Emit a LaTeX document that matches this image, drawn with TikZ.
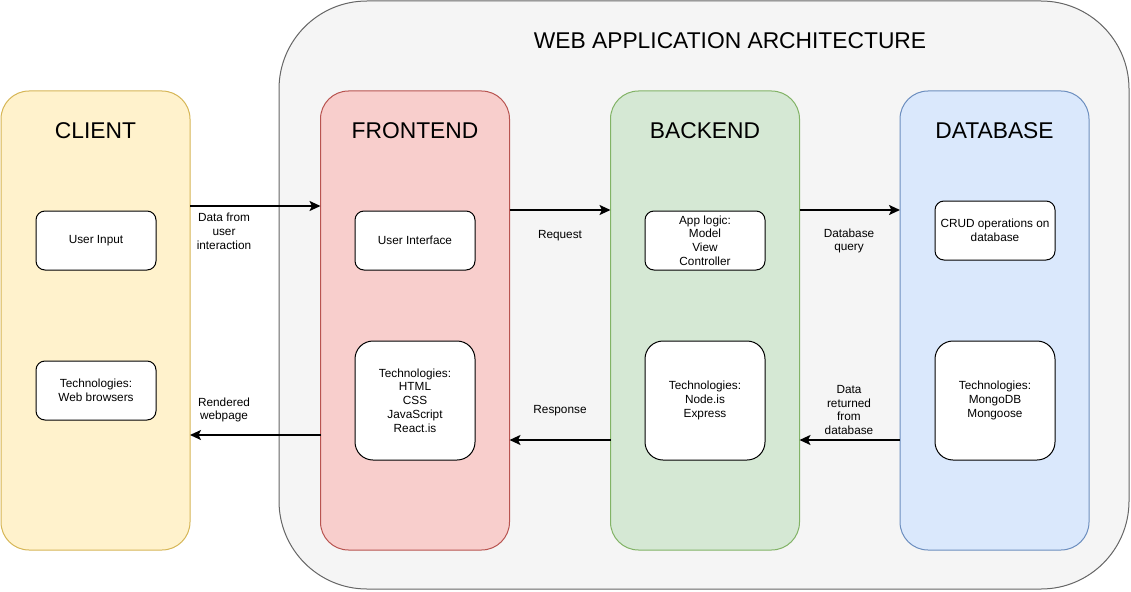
\documentclass[tikz,border=0pt]{standalone}
\usepackage{fontspec}
\setmainfont{Liberation Sans}
\usetikzlibrary{arrows.meta}
\definecolor{ylwF}{HTML}{FFF2CC}\definecolor{ylwS}{HTML}{D6B656}
\definecolor{redF}{HTML}{F8CECC}\definecolor{redS}{HTML}{B85450}
\definecolor{grnF}{HTML}{D5E8D4}\definecolor{grnS}{HTML}{82B366}
\definecolor{bluF}{HTML}{DAE8FC}\definecolor{bluS}{HTML}{6C8EBF}
\definecolor{gryF}{HTML}{F5F5F5}\definecolor{gryS}{HTML}{666666}
\tikzset{
  lane/.style={draw, line width=1pt, rounded corners=28pt, minimum width=189pt, minimum height=459pt, outer sep=0pt},
  item/.style={draw=black, fill=white, line width=1pt, rounded corners=9pt, minimum width=120pt, minimum height=59pt, align=center, font=\fontsize{11.8}{13.8}\selectfont, outer sep=0pt},
  tall/.style={item, minimum height=119pt, rounded corners=18pt},
  title/.style={font=\fontsize{22.8}{26}\selectfont},
  lbl/.style={align=center, font=\fontsize{11.8}{13.8}\selectfont},
  arr/.style={line width=2pt, -{Stealth[length=11pt, width=10pt, inset=2.5pt]}},
}
\begin{document}
\begin{tikzpicture}[x=1pt,y=-1pt]
\useasboundingbox (0,0) rectangle (1131,591);
\node[draw=gryS, fill=gryF, line width=1pt, rounded corners=88pt, minimum width=850pt, minimum height=588pt, outer sep=0pt] (arch) at (704,295) {};
\node[title] (archT) at (730,41) {WEB APPLICATION ARCHITECTURE};

\node[lane, draw=ylwS, fill=ylwF] (client) at (95.5,320.5) {};
\node[lane, draw=redS, fill=redF] (front) at (415,320.5) {};
\node[lane, draw=grnS, fill=grnF] (back) at (705,320.5) {};
\node[lane, draw=bluS, fill=bluF] (db) at (994.5,320.5) {};

\node[title] (clientT) at (95.5,131) {CLIENT};
\node[title] (frontT) at (415,131) {FRONTEND};
\node[title] (backT) at (705,131) {BACKEND};
\node[title] (dbT) at (994.5,131) {DATABASE};

\node[item] (uin) at (96,240.5) {User Input};
\node[item] (ctech) at (96,390.5) {Technologies:\\Web browsers};
\node[item] (ui) at (415,240.5) {User Interface};
\node[tall] (ftech) at (415,400.5) {Technologies:\\HTML\\CSS\\JavaScript\\React.is};
\node[item] (app) at (705,240.5) {App logic:\\Model\\View\\Controller};
\node[tall] (btech) at (705,400.5) {Technologies:\\Node.is\\Express};
\node[item] (crud) at (995,230.5) {CRUD operations on\\database};
\node[tall] (dtech) at (995,400.5) {Technologies:\\MongoDB\\Mongoose};

\draw[arr] (client.east |- 0,206) -- (front.west |- 0,206);
\draw[arr] (front.east |- 0,210) -- (back.west |- 0,210);
\draw[arr] (back.east |- 0,210) -- (db.west |- 0,210);
\draw[arr] (front.west |- 0,435) -- (client.east |- 0,435);
\draw[arr] (back.west |- 0,440) -- (front.east |- 0,440);
\draw[arr] (db.west |- 0,440) -- (back.east |- 0,440);

\node[lbl] (l1) at (224,231) {Data from\\user\\interaction};
\node[lbl] (l2) at (224,410) {Rendered\\webpage};
\node[lbl] (l3) at (560,236) {Request};
\node[lbl] (l4) at (560,411) {Response};
\node[lbl] (l5) at (849,241) {Database\\query};
\node[lbl] (l6) at (849,410) {Data\\returned\\from\\database};
\end{tikzpicture}
\end{document}
